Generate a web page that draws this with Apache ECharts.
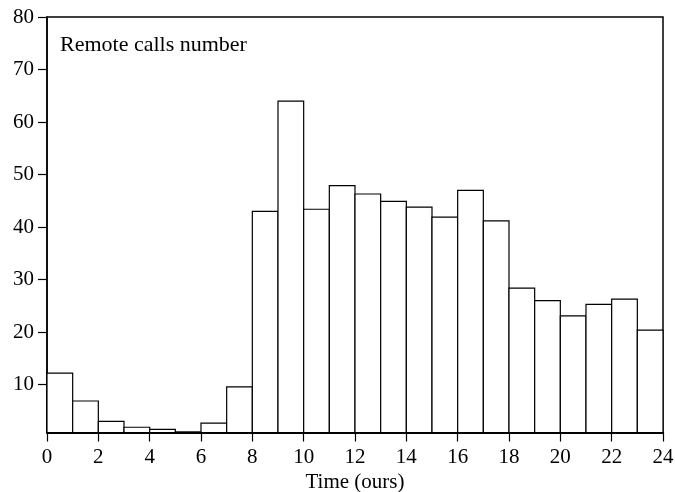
<!DOCTYPE html>
<html>
<head>
<meta charset="utf-8">
<script src="https://cdn.jsdelivr.net/npm/echarts@6/dist/echarts.min.js"></script>
<style>
html,body{margin:0;padding:0;background:#fff;}
#chart{width:675px;height:492px;}
</style>
</head>
<body>
<div id="chart"></div>
<script>
// Hour bins (start hour of each one-hour bin)
const binStarts = [0,1,2,3,4,5,6,7,8,9,10,11,12,13,14,15,16,17,18,19,20,21,22,23];
// Remote calls number per bin
const callCounts = [12.2,6.9,3.0,1.9,1.5,1.0,2.7,9.6,43.0,64.0,43.4,47.9,46.3,44.9,43.8,41.9,47.0,41.2,28.4,26.0,23.1,25.3,26.3,20.4];
const yTickValues = [10,20,30,40,50,60,70,80];
const chartLabel = 'Remote calls number';
const xAxisTitle = 'Time (ours)';

const FONT = 'Liberation Serif';
const yMin = 0.9;

const data = binStarts.map((s, i) => [s, s + 1, callCounts[i]]);

const chart = echarts.init(document.getElementById('chart'));
chart.setOption({
  animation: false,
  backgroundColor: '#fff',
  title: {
    text: chartLabel,
    left: 55,
    top: 29,
    textStyle: {fontFamily: FONT, fontSize: 22, fontWeight: 'normal', color: '#000'}
  },
  grid: {
    left: 47, right: 12, top: 17, bottom: 59.5,
    outerBoundsMode: 'none', containLabel: false,
    show: true, borderColor: '#000', borderWidth: 1.5, backgroundColor: 'transparent'
  },
  xAxis: {
    type: 'value', min: 0, max: 24, interval: 2,
    name: xAxisTitle, nameLocation: 'middle', nameGap: 36,
    nameTextStyle: {fontFamily: FONT, fontSize: 21, color: '#000'},
    axisLine: {show: true, onZero: false, lineStyle: {color: '#000', width: 2}},
    axisTick: {show: true, inside: false, length: 9, lineStyle: {color: '#000', width: 1.2}},
    axisLabel: {fontFamily: FONT, fontSize: 21, color: '#000', margin: 14},
    splitLine: {show: false}
  },
  yAxis: {
    type: 'value', min: yMin, max: 80,
    axisLine: {show: true, onZero: false, lineStyle: {color: '#000', width: 1.5}},
    axisTick: {show: true, inside: false, length: 9, customValues: yTickValues, lineStyle: {color: '#000', width: 1.2}},
    axisLabel: {fontFamily: FONT, fontSize: 21, color: '#000', margin: 13, customValues: yTickValues},
    splitLine: {show: false}
  },
  series: [{
    type: 'custom',
    data: data,
    encode: {x: [0, 1], y: 2},
    renderItem: function (params, api) {
      const p0 = api.coord([api.value(0), api.value(2)]);
      const p1 = api.coord([api.value(1), yMin]);
      return {
        type: 'rect',
        shape: {x: p0[0], y: p0[1], width: p1[0] - p0[0], height: p1[1] - p0[1]},
        style: {fill: '#fff', stroke: '#000', lineWidth: 1.2}
      };
    }
  }]
});
</script>
</body>
</html>
